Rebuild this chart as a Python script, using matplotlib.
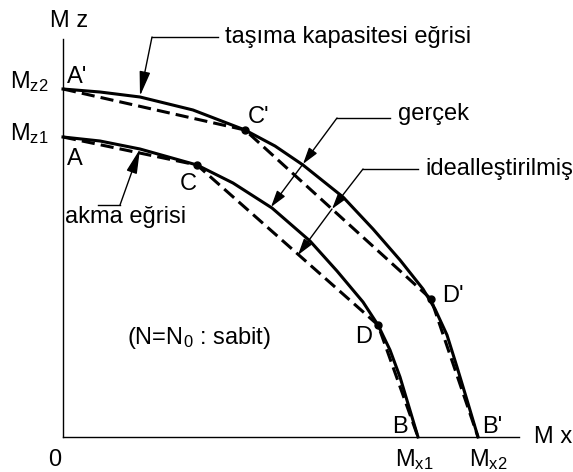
import matplotlib
matplotlib.use("Agg")
import matplotlib.pyplot as plt

plt.rcParams['font.family'] = ['Liberation Sans', 'DejaVu Sans']
plt.rcParams['mathtext.fontset'] = 'custom'
plt.rcParams['mathtext.rm'] = 'Liberation Sans'
plt.rcParams['mathtext.it'] = 'Liberation Sans:italic'

# real interaction curves (Mx, Mz)
cap_x = [0, 37, 77, 130, 182, 212, 240, 280, 310, 337, 360, 372, 384, 394, 404, 415]
cap_z = [348, 345, 340, 327, 307, 291, 272, 240, 208, 177, 148, 128, 102, 70, 37, 0]
yld_x = [0, 37, 77, 134, 170, 209, 247, 274, 300, 315, 327, 337, 346, 355]
yld_z = [300, 296, 288, 272, 254, 229, 196, 166, 135, 112, 87, 60, 30, 0]

# idealised polylines A'-C'-D'-B' and A-C-D-B
cap_ideal_x = [0, 182, 368, 415]
cap_ideal_z = [348, 307, 138, 0]
yld_ideal_x = [0, 134, 315, 355]
yld_ideal_z = [300, 272, 112, 0]

fig = plt.figure(figsize=(5.73, 4.72), dpi=100)
ax = fig.add_axes([0, 0, 1, 1])
ax.set_xlim(-63, 510)
ax.set_ylim(-35, 437)
ax.axis('off')

# axes
ax.plot([0, 0], [0, 398], color='k', lw=1)
ax.plot([0, 456], [0, 0], color='k', lw=1)

ax.plot(cap_x, cap_z, color='k', lw=2.2, solid_joinstyle='round')
ax.plot(yld_x, yld_z, color='k', lw=2.2, solid_joinstyle='round')
ax.plot(cap_ideal_x, cap_ideal_z, color='k', lw=2.2, linestyle=(0, (4.3, 2)))
ax.plot(yld_ideal_x, yld_ideal_z, color='k', lw=2.2, linestyle=(0, (4.3, 2)))

# break points C, D, C', D'
ax.plot(cap_ideal_x[1:3], cap_ideal_z[1:3], 'o', color='k', ms=5, ls='none')
ax.plot(yld_ideal_x[1:3], yld_ideal_z[1:3], 'o', color='k', ms=5, ls='none')


def arrow(start, tip, hl, hw):
    ax.annotate('', xy=tip, xytext=start,
                arrowprops=dict(arrowstyle='-|>,head_length=%g,head_width=%g' % (hl, hw),
                                color='k', lw=1, shrinkA=0, shrinkB=0,
                                mutation_scale=1))


# taşıma kapasitesi eğrisi
ax.plot([89, 155], [400, 400], color='k', lw=1)
arrow((89, 400), (77, 341), 15, 3.3)
# akma eğrisi
ax.plot([35, 57], [232, 232], color='k', lw=1)
arrow((57, 232), (77, 288), 15, 3.3)
# gerçek
ax.plot([274, 327], [319, 319], color='k', lw=1)
arrow((274, 319), (240, 273), 10, 3)
arrow((240, 273), (208, 230), 10, 3)
# idealleştirilmiş
ax.plot([300, 355], [268, 268], color='k', lw=1)
arrow((300, 268), (269, 228), 10, 3)
arrow((269, 228), (235, 182), 10, 3)

fs = 17
labels = [
    (-13, 410, 'M z'),
    (-53, 349, r'M$_{\mathrm{z2}}$'),
    (-53, 297, r'M$_{\mathrm{z1}}$'),
    (-15, -29, '0'),
    (332, -29, r'M$_{\mathrm{x1}}$'),
    (406, -29, r'M$_{\mathrm{x2}}$'),
    (471, -6, 'M x'),
    (4, 354, "A'"),
    (4, 272, 'A'),
    (117, 247, 'C'),
    (185, 314, "C'"),
    (292, 94, 'D'),
    (379, 135, "D'"),
    (329, 4, 'B'),
    (419, 4, "B'"),
    (64, 93, r'(N=N$_{\mathrm{0}}$ : sabit)'),
    (2, 214, 'akma eğrisi'),
    (162, 394, 'taşıma kapasitesi eğrisi'),
    (335, 317, 'gerçek'),
    (362, 262, 'idealleştirilmiş'),
]
for x, y, s in labels:
    ax.text(x, y, s, fontsize=fs, ha='left', va='baseline')

fig.savefig('out.png', dpi=100)
